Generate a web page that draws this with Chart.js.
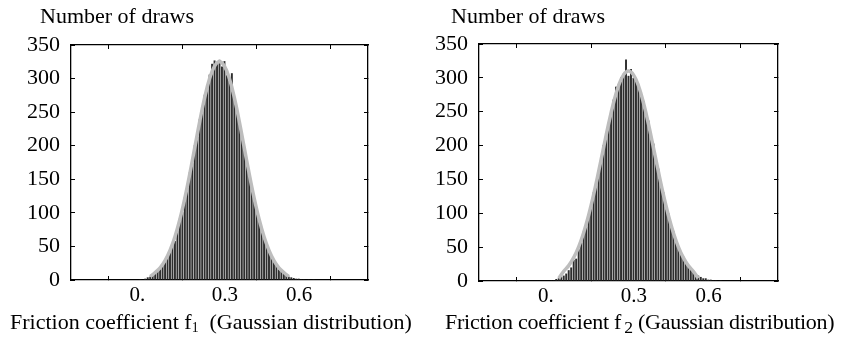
<!DOCTYPE html>
<html>
<head>
<meta charset="utf-8">
<script src="https://cdn.jsdelivr.net/npm/chart.js@4/dist/chart.umd.min.js"></script>
<style>
  html, body { margin: 0; padding: 0; background: #fff; }
  #wrap { position: relative; width: 842px; height: 339px; overflow: hidden; }
  .panel { position: absolute; top: 0; width: 421px; height: 339px; }
  .panel canvas { position: absolute; left: 0; top: 0; }
  .lbl { position: absolute; font-family: "Liberation Serif", "Times New Roman", serif;
         font-size: 22px; line-height: 25px; color: #000; white-space: nowrap; }
  .lbl sub { font-size: 0.62em; line-height: 0; vertical-align: -0.2em; }
  .lbl sub.big { font-size: 0.8em; margin-left: 3px; }
</style>
</head>
<body>
<div id="wrap">
  <div class="panel" style="left:0">
    <canvas id="chartF1" width="421" height="339"></canvas>
    <div class="lbl" style="left:40px; top:3px">Number of draws</div>
    <div class="lbl" style="left:10px; top:309px">Friction coefficient f<sub>1</sub>&nbsp; (Gaussian distribution)</div>
  </div>
  <div class="panel" style="left:421px">
    <canvas id="chartF2" width="421" height="339"></canvas>
    <div class="lbl" style="left:30px; top:3px">Number of draws</div>
    <div class="lbl" style="left:24px; top:309px; letter-spacing:-0.25px">Friction coefficient f<sub class="big">2</sub> (Gaussian distribution)</div>
  </div>
</div>

<script>
// histogram bins (centre of each bin)
const binCenters = [-0.02, -0.01, 0.00, 0.01, 0.02, 0.03, 0.04, 0.05, 0.06, 0.07,
  0.08, 0.09, 0.10, 0.11, 0.12, 0.13, 0.14, 0.15, 0.16, 0.17,
  0.18, 0.19, 0.20, 0.21, 0.22, 0.23, 0.24, 0.25, 0.26, 0.27,
  0.28, 0.29, 0.30, 0.31, 0.32, 0.33, 0.34, 0.35, 0.36, 0.37,
  0.38, 0.39, 0.40, 0.41, 0.42, 0.43, 0.44, 0.45, 0.46, 0.47,
  0.48, 0.49, 0.50, 0.51, 0.52, 0.53, 0.54, 0.55, 0.56, 0.57,
  0.58, 0.59, 0.60, 0.61, 0.62, 0.63, 0.64, 0.65, 0.66, 0.67, 0.68];

const drawsF1 = [1, 0, 2, 4, 5, 7, 10, 13, 18, 24,
  27, 37, 45, 52, 58, 74, 93, 101, 124, 137,
  161, 174, 201, 213, 240, 251, 276, 283, 306, 322,
  327, 324, 328, 318, 326, 305, 297, 308, 268, 258,
  232, 220, 193, 180, 154, 142, 119, 108, 88, 79,
  62, 55, 42, 37, 27, 22, 16, 13, 9, 7,
  5, 4, 3, 2, 2, 1, 1, 0, 1, 0, 1];

const drawsF2 = [0, 1, 1, 3, 4, 6, 8, 11, 16, 20,
  31, 33, 47, 56, 73, 80, 99, 110, 131, 140,
  163, 175, 201, 210, 232, 246, 268, 287, 290, 301,
  306, 327, 303, 313, 300, 295, 288, 272, 266, 246,
  237, 211, 203, 177, 166, 141, 131, 109, 100, 82,
  74, 58, 51, 40, 36, 27, 22, 17, 13, 10,
  8, 6, 4, 4, 2, 2, 1, 1, 0, 1, 0];

// fitted gaussian curve (grey line)
const fitX = [0.02, 0.04, 0.06, 0.08, 0.10, 0.12, 0.14, 0.16, 0.18, 0.20,
  0.22, 0.24, 0.26, 0.28, 0.30, 0.32, 0.34, 0.36, 0.38, 0.40,
  0.42, 0.44, 0.46, 0.48, 0.50, 0.52, 0.54, 0.56, 0.58];
const fitF1 = [5.0, 11.1, 18.2, 28.9, 44.0, 64.3, 90.4, 122.0, 158.2, 197.1,
  236.0, 271.5, 300.0, 318.6, 325, 318.6, 300.0, 271.5, 236.0, 197.1,
  158.2, 122.0, 90.4, 64.3, 44.0, 28.9, 18.2, 11.1, 5.0];
const fitF2 = [4.0, 14.4, 22.7, 34.5, 50.5, 71.3, 97.1, 127.4, 161.4, 197.0,
  231.9, 263.3, 288.3, 304.4, 310, 304.4, 288.3, 263.3, 231.9, 197.0,
  161.4, 127.4, 97.1, 71.3, 50.5, 34.5, 22.7, 14.4, 4.0];

const xTicks = [0, 0.3, 0.6];
const xTickLabels = ["0.", "0.3", "0.6"];
const yTicks = [0, 50, 100, 150, 200, 250, 300, 350];

const SERIF = "'Liberation Serif', 'Times New Roman', serif";
Chart.defaults.font.family = SERIF;
Chart.defaults.font.size = 22;
Chart.defaults.color = "#000";

// the original labels sit a little off their tick marks: pad with spaces
const labelPad = ["   ", "  ", "  "];

function setTicks(values) {
    return function (scale) {
        scale.ticks = values.map(v => ({ value: v }));
    };
}

function frameAxis(pos, axis, values, extra) {
    return Object.assign({
        type: "linear",
        position: pos,
        axis: axis,
        offset: false,
        afterBuildTicks: setTicks(values),
        grid: { drawOnChartArea: false, drawTicks: true, tickLength: -4, color: "#000", lineWidth: 1 },
        border: { display: true, color: "#000", width: 1.3 },
        ticks: { display: false },
        z: 1
    }, extra);
}

function initHistogram(canvasId, counts, fit, box) {
    const canvas = document.getElementById(canvasId);
    if (!canvas) return;

    new Chart(canvas, {
        type: "bar",
        data: {
            datasets: [
                {
                    type: "line",
                    data: fitX.map((x, i) => ({ x: x, y: fit[i] })),
                    borderColor: "#bdbdbd",
                    borderWidth: 3.5,
                    pointRadius: 0,
                    tension: 0.4,
                    fill: false,
                    xAxisID: "x",
                    yAxisID: "y",
                },
                {
                    type: "bar",
                    data: binCenters.map((x, i) => ({ x: x, y: counts[i] })),
                    backgroundColor: "#2e2e2e",
                    borderWidth: 0,
                    barPercentage: 1,
                    categoryPercentage: 0.78,
                    xAxisID: "x",
                    yAxisID: "y",
                },
            ],
        },
        options: {
            responsive: false,
            animation: false,
            devicePixelRatio: 1,
            layout: { padding: { left: 0, top: box.top, right: box.right, bottom: 0 } },
            plugins: { legend: { display: false }, tooltip: { enabled: false } },
            scales: {
                x: frameAxis("bottom", "x", xTicks, {
                    min: -0.3, max: 0.9,
                    ticks: {
                        display: true, padding: 7, maxRotation: 0, autoSkip: false,
                        font: { family: SERIF, size: 21 },
                        callback: (v) => {
                            const i = xTicks.indexOf(v);
                            if (i < 0) return "";
                            return i === 0 ? xTickLabels[i] + labelPad[i] : labelPad[i] + xTickLabels[i];
                        }
                    },
                    afterFit: (s) => { s.height = box.bottom; }
                }),
                xTop: frameAxis("top", "x", xTicks, {
                    min: -0.3, max: 0.9,
                    afterFit: (s) => { s.height = 0; }
                }),
                y: frameAxis("left", "y", yTicks, {
                    min: 0, max: 350,
                    ticks: { display: true, padding: 15, font: { family: SERIF, size: 22 } },
                    afterFit: (s) => { s.width = box.left; }
                }),
                yRight: frameAxis("right", "y", yTicks, {
                    min: 0, max: 350,
                    afterFit: (s) => { s.width = 0; }
                }),
            },
        },
    });
}

document.addEventListener("DOMContentLoaded", () => {
    initHistogram("chartF1", drawsF1, fitF1, { left: 71, right: 53, top: 45, bottom: 59 });
    initHistogram("chartF2", drawsF2, fitF2, { left: 58, right: 64, top: 44, bottom: 58 });
});
</script>
</body>
</html>
